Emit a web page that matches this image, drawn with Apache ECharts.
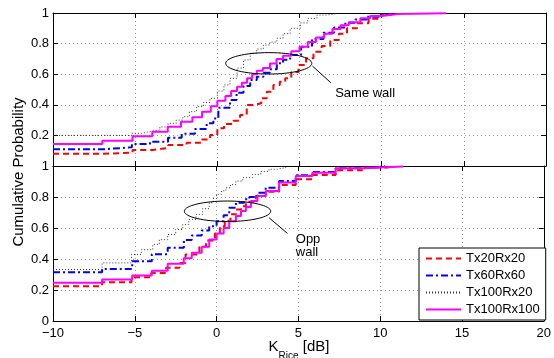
<!DOCTYPE html>
<html><head><meta charset="utf-8">
<script src="https://cdn.jsdelivr.net/npm/echarts@6/dist/echarts.min.js"></script>
<style>html,body{margin:0;padding:0;background:#fff}#c{width:554px;height:358px}</style>
</head><body><div id="c"></div>
<script>
const seriesNames = ['Tx20Rx20', 'Tx60Rx60', 'Tx100Rx20', 'Tx100Rx100'];
const xMin = -10, xMax = 20, xStep = 5;
const yMin = 0, yMax = 1, yStep = 0.2;

// Same wall (top panel): [K_Rice dB, cumulative probability]
const sameTx20Rx20 = [[-10,0.08],[-7.0,0.087],[-5.16,0.105],[-3.96,0.118],[-2.99,0.137],[-1.87,0.152],[-0.95,0.174],[-0.44,0.203],[0,0.246],[0.41,0.275],[0.98,0.296],[1.38,0.333],[1.79,0.399],[2.2,0.41],[2.67,0.442],[3.01,0.486],[3.41,0.529],[3.8,0.55],[4.13,0.573],[4.5,0.615],[4.94,0.66],[5.4,0.705],[5.85,0.747],[6.35,0.785],[6.87,0.824],[7.4,0.865],[7.89,0.9],[8.5,0.933],[9.2,0.963],[9.92,0.987],[10.5,1]];
const sameTx60Rx60 = [[-10,0.109],[-7.0,0.122],[-5.2,0.144],[-4.1,0.159],[-3.0,0.185],[-2.17,0.21],[-1.36,0.242],[-0.65,0.279],[-0.24,0.31],[0.06,0.38],[0.77,0.431],[1.17,0.479],[1.59,0.523],[2.0,0.562],[2.4,0.584],[2.8,0.61],[3.2,0.632],[3.62,0.671],[4.0,0.695],[4.43,0.725],[5.1,0.78],[5.76,0.83],[6.46,0.871],[7.1,0.905],[7.79,0.937],[8.4,0.958],[9.1,0.976],[9.9,0.99],[10.7,1]];
const sameTx100Rx20 = [[-10,0.2],[-5.2,0.214],[-4.6,0.225],[-4.1,0.235],[-3.5,0.255],[-3.0,0.279],[-2.5,0.3],[-2.1,0.322],[-1.7,0.355],[-1.26,0.388],[-0.85,0.415],[-0.45,0.442],[0,0.49],[0.4,0.53],[0.77,0.573],[1.2,0.64],[1.59,0.693],[2.0,0.737],[2.4,0.765],[2.8,0.791],[3.2,0.81],[3.62,0.835],[4.0,0.865],[4.43,0.9],[5.05,0.935],[5.5,0.965],[6.06,0.987],[6.7,0.997],[7.3,1]];
const sameTx100Rx100 = [[-10,0.144],[-7.0,0.165],[-5.16,0.194],[-3.96,0.224],[-3.02,0.257],[-2.21,0.29],[-1.52,0.318],[-0.93,0.355],[-0.4,0.39],[0,0.427],[0.49,0.457],[0.84,0.49],[1.2,0.518],[1.49,0.544],[1.81,0.573],[2.12,0.6],[2.4,0.623],[2.77,0.64],[3.2,0.67],[3.6,0.7],[4.0,0.72],[4.5,0.75],[5.0,0.78],[5.5,0.81],[6.0,0.84],[6.5,0.865],[7.0,0.895],[7.5,0.92],[8.0,0.94],[8.7,0.965],[9.3,0.98],[10,0.993],[11,0.998],[13.9,1]];

// Opposite wall (bottom panel)
const oppTx20Rx20 = [[-10,0.224],[-7.0,0.25],[-5.2,0.282],[-4.0,0.31],[-3.09,0.343],[-2.27,0.375],[-1.9,0.429],[-1.05,0.479],[-0.65,0.519],[-0.1,0.565],[0.2,0.612],[0.5,0.647],[0.85,0.688],[1.18,0.72],[1.49,0.741],[1.79,0.77],[2.4,0.806],[3.0,0.834],[3.82,0.877],[4.84,0.914],[5.85,0.942],[7.28,0.972],[8.9,0.99],[10.5,1]];
const oppTx60Rx60 = [[-10,0.315],[-7.0,0.336],[-5.16,0.386],[-3.96,0.431],[-2.99,0.472],[-2.0,0.522],[-1.52,0.552],[-0.91,0.584],[-0.45,0.612],[0,0.644],[0.43,0.683],[0.77,0.731],[1.18,0.763],[1.69,0.785],[2.0,0.8],[2.5,0.828],[3.0,0.86],[3.82,0.903],[4.84,0.94],[5.85,0.961],[7.28,0.985],[8.9,0.997],[10.3,1]];
const oppTx100Rx20 = [[-10,0.332],[-7.0,0.375],[-5.2,0.429],[-4.6,0.46],[-3.9,0.494],[-3.5,0.525],[-2.99,0.558],[-2.5,0.59],[-2.07,0.623],[-1.7,0.655],[-1.26,0.688],[-0.85,0.725],[-0.45,0.763],[-0.2,0.79],[0,0.817],[0.3,0.84],[0.57,0.86],[0.85,0.88],[1.18,0.903],[1.6,0.925],[2.2,0.946],[2.7,0.965],[3.2,0.979],[3.7,0.99],[4.23,1]];
const oppTx100Rx100 = [[-10,0.246],[-7.0,0.267],[-5.16,0.293],[-3.96,0.325],[-2.99,0.369],[-2.01,0.405],[-1.52,0.44],[-0.91,0.479],[-0.45,0.526],[0,0.565],[0.43,0.6],[0.77,0.644],[1.18,0.677],[1.49,0.709],[1.79,0.735],[2.1,0.774],[2.5,0.806],[3.01,0.838],[3.82,0.893],[4.84,0.935],[5.85,0.957],[7.28,0.985],[8.9,0.997],[11.4,1]];

const topData = [sameTx20Rx20, sameTx60Rx60, sameTx100Rx20, sameTx100Rx100];
const botData = [oppTx20Rx20, oppTx60Rx60, oppTx100Rx20, oppTx100Rx100];

const FONT = '"Liberation Sans", Arial, Helvetica, sans-serif';
const lineStyles = [
  {color: '#ff0000', width: 2, type: [6, 4]},
  {color: '#0000ff', width: 2, type: [7, 3, 2, 3]},
  {color: '#333333', width: 1, type: [1, 2]},
  {color: '#ff00ff', width: 2, type: 'solid'}
];

function fmtNum(v) { const s = String(+v.toFixed(1)); return v < 0 ? '\u2212' + s.slice(1) : s; }

function xAx(grid, pos, labels, split) {
  return {
    type: 'value', gridIndex: grid, position: pos, min: xMin, max: xMax, interval: xStep,
    axisLine: {show: true, onZero: false, lineStyle: {color: '#000', width: 1}},
    axisTick: {show: true, inside: true, length: 5, lineStyle: {color: '#000'}},
    axisLabel: {show: labels, color: '#000', fontSize: 13, fontFamily: FONT, margin: 6, formatter: fmtNum},
    splitLine: {show: split, lineStyle: {color: '#999', type: [1, 3], width: 1}}
  };
}
function yAx(grid, pos, labels, split, hideZero) {
  return {
    type: 'value', gridIndex: grid, position: pos, min: yMin, max: yMax, interval: yStep,
    axisLine: {show: true, onZero: false, lineStyle: {color: '#000', width: 1}},
    axisTick: {show: true, inside: true, length: 5, lineStyle: {color: '#000'}},
    axisLabel: {show: labels, color: '#000', fontSize: 13, fontFamily: FONT, margin: 4,
      formatter: v => (hideZero && v === 0) ? '' : fmtNum(v)},
    splitLine: {show: split, lineStyle: {color: '#999', type: [1, 3], width: 1}}
  };
}

const series = [];
topData.forEach((d, i) => series.push({
  name: seriesNames[i], type: 'line', step: 'end', data: d, xAxisIndex: 0, yAxisIndex: 0,
  symbol: 'none', showSymbol: false, lineStyle: lineStyles[i], itemStyle: {color: lineStyles[i].color},
  animation: false, silent: true, clip: true
}));
botData.forEach((d, i) => series.push({
  name: seriesNames[i], type: 'line', step: 'end', data: d, xAxisIndex: 2, yAxisIndex: 2,
  symbol: 'none', showSymbol: false, lineStyle: lineStyles[i], itemStyle: {color: lineStyles[i].color},
  animation: false, silent: true, clip: true
}));

const chart = echarts.init(document.getElementById('c'), null, {renderer: 'canvas'});
chart.setOption({
  backgroundColor: '#fff',
  animation: false,
  grid: [
    {left: 53, top: 13, width: 493, height: 153},
    {left: 53, top: 166, width: 493, height: 155}
  ],
  xAxis: [xAx(0, 'bottom', false, true), xAx(0, 'top', false, false), xAx(1, 'bottom', true, true), xAx(1, 'top', false, false)],
  yAxis: [yAx(0, 'left', true, true, true), yAx(0, 'right', false, false), yAx(1, 'left', true, true, false), yAx(1, 'right', false, false)],
  legend: {
    data: seriesNames, orient: 'vertical', left: 419, top: 248,
    itemWidth: 35, itemHeight: 12, itemGap: 4, padding: [4, 6, 4, 6],
    borderColor: '#000', borderWidth: 1, borderRadius: 0, backgroundColor: '#fff',
    itemStyle: {opacity: 0, borderWidth: 0},
    textStyle: {fontFamily: FONT, fontSize: 13, color: '#000'}
  },
  series: series
});

// annotations positioned in data coordinates
function px(g, p) { return chart.convertToPixel({gridIndex: g}, p); }
function ellipse(g, c, rxData, ryData) {
  const cc = px(g, c), ex = px(g, [c[0] + rxData, c[1]]), ey = px(g, [c[0], c[1] + ryData]);
  return {type: 'ellipse', shape: {cx: cc[0], cy: cc[1], rx: Math.abs(ex[0] - cc[0]), ry: Math.abs(cc[1] - ey[1])},
    style: {fill: null, stroke: '#000', lineWidth: 1}, z: 100};
}
function seg(g, a, b) {
  const p1 = px(g, a), p2 = px(g, b);
  return {type: 'line', shape: {x1: p1[0], y1: p1[1], x2: p2[0], y2: p2[1]}, style: {stroke: '#000', lineWidth: 1}, z: 100};
}
function txt(g, p, t) {
  const q = px(g, p);
  return {type: 'text', x: q[0], y: q[1], z: 100,
    style: {text: t, font: '13px ' + FONT, fill: '#000', align: 'left', verticalAlign: 'middle'}};
}
chart.setOption({
  graphic: [
    ellipse(0, [3.13, 0.671], 2.62, 0.07),
    seg(0, [5.79, 0.653], [6.91, 0.544]),
    txt(0, [7.17, 0.477], 'Same wall'),
    ellipse(1, [0.67, 0.708], 2.64, 0.066),
    seg(1, [3.21, 0.666], [4.33, 0.565]),
    txt(1, [4.84, 0.526], 'Opp'),
    txt(1, [4.84, 0.444], 'wall'),
    {type: 'text', x: 19, y: 172, rotation: Math.PI / 2,
      style: {text: 'Cumulative Probability', font: '15px ' + FONT, fill: '#000', align: 'center', verticalAlign: 'middle'}},
    {type: 'text', x: 299, y: 339,
      style: {text: '{k|K}{s|Rice}{k| [dB]}', fill: '#000', align: 'center', verticalAlign: 'top',
        rich: {k: {fontSize: 15, fontFamily: FONT, lineHeight: 22, verticalAlign: 'top', fill: '#000'},
               s: {fontSize: 10, fontFamily: FONT, lineHeight: 22, verticalAlign: 'bottom', fill: '#000'}}}}
  ]
});
</script></body></html>
